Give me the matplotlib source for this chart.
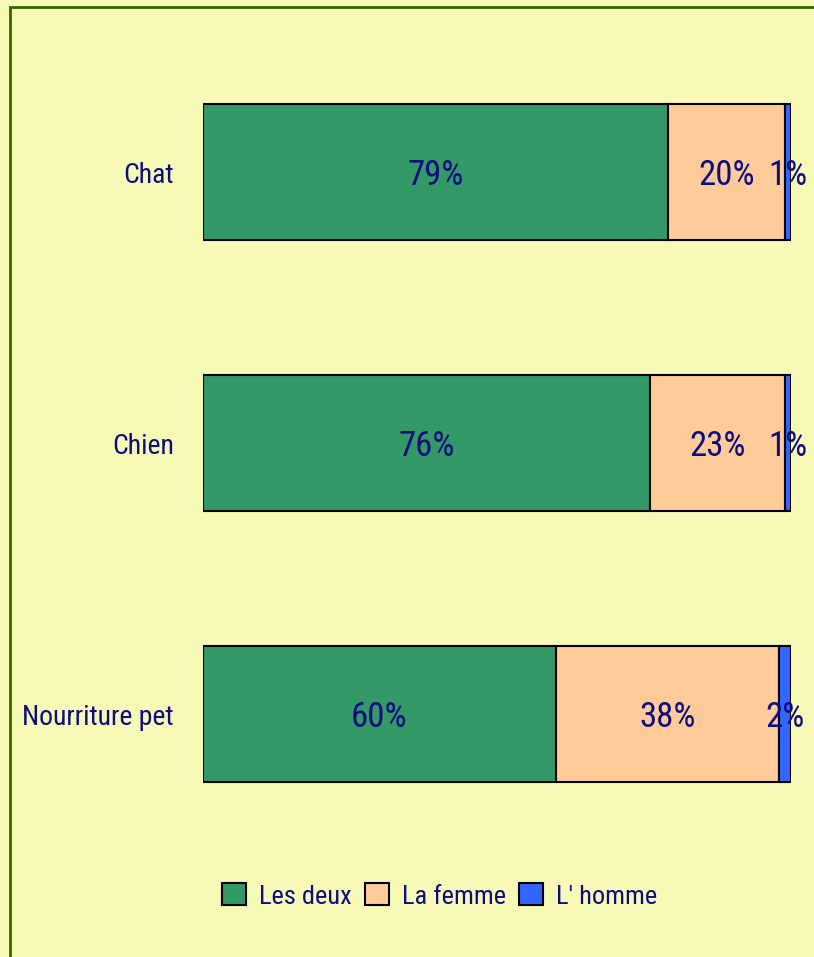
import matplotlib
matplotlib.use("Agg")
import matplotlib.pyplot as plt
from matplotlib.patches import Rectangle
from matplotlib import font_manager

# data
categories = ["Chat", "Chien", "Nourriture pet"]
series_names = ["Les deux", "La femme", "L' homme"]
les_deux = [79, 76, 60]
la_femme = [20, 23, 38]
l_homme = [1, 1, 2]

colors = ["#339966", "#FFCC99", "#3366FF"]
text_color = "#0D0D80"
bg = "#F7F9B7"

names = {f.name for f in font_manager.fontManager.ttflist}
fam = [f for f in ["Roboto Condensed", "Liberation Sans Narrow", "DejaVu Sans Condensed"] if f in names]
plt.rcParams["font.family"] = fam + ["DejaVu Sans"]

W, H = 814, 957
fig = plt.figure(figsize=(W / 100, H / 100), dpi=100, facecolor=bg)

# outer frame (runs off the right/bottom edge)
fig.patches.append(Rectangle((10 / W, -0.1), 1.1, 1 - 7 / H + 0.1,
                             transform=fig.transFigure, fill=False,
                             edgecolor="#336600", linewidth=2))

ax = fig.add_axes([203 / W, 1 - 849.5 / H, 588 / W, 813 / H])
ax.set_facecolor("none")
for s in ax.spines.values():
    s.set_visible(False)

y = list(range(len(categories)))
left = [0] * len(categories)
for name, vals, c in zip(series_names, [les_deux, la_femme, l_homme], colors):
    ax.barh(y, vals, left=left, height=0.5, color=c, edgecolor="black",
            linewidth=1.5, label=name)
    for yi, l, v in zip(y, left, vals):
        ax.text(l + v / 2, yi, f"{v}%", ha="center", va="center_baseline",
                fontsize=25, color=text_color)
    left = [a + b for a, b in zip(left, vals)]

ax.set_xlim(0, 100)
ax.set_ylim(2.5, -0.5)
ax.set_xticks([])
ax.set_yticks(y)
ax.set_yticklabels(categories, fontsize=20, color=text_color)
ax.tick_params(axis="y", length=0, pad=21)

fig.legend(loc="center", bbox_to_anchor=(440 / W, 1 - 896 / H), ncol=3,
           frameon=False, fontsize=19, labelcolor=text_color,
           handlelength=0.9, handleheight=0.9, handletextpad=0.5,
           columnspacing=0.5)
for p in fig.legends[0].get_patches():
    p.set_linewidth(1.5)

fig.savefig("out.png", dpi=100, facecolor=bg)
